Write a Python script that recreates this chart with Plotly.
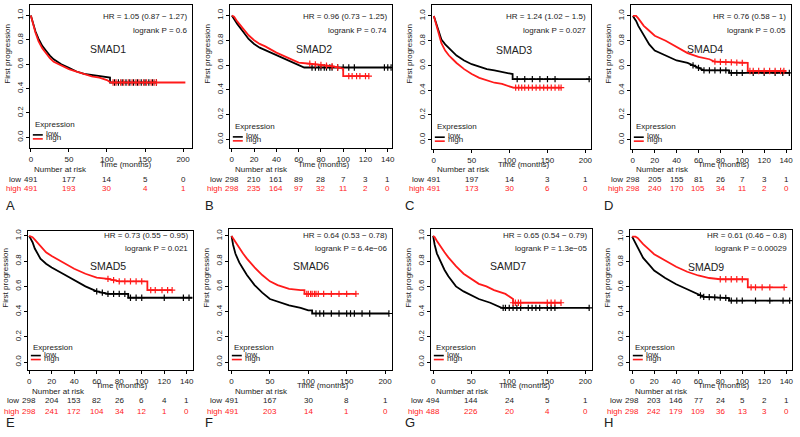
import numpy as np
import plotly.graph_objects as go

W, H = 800, 437
FONT = "Arial, Liberation Sans, sans-serif"
RED = "#FF1A1A"

# ---------------- data ----------------
genes = ["SMAD1", "SMAD2", "SMAD3", "SMAD4", "SMAD5", "SMAD6", "SAMD7", "SMAD9"]
letters = ["A", "B", "C", "D", "E", "F", "G", "H"]
x_max = [200, 140, 200, 140, 140, 200, 200, 140]
x_step = [50, 20, 50, 20, 20, 50, 50, 20]
hr_text = ["HR = 1.05 (0.87 − 1.27)", "HR = 0.96 (0.73 − 1.25)", "HR = 1.24 (1.02 − 1.5)",
           "HR = 0.76 (0.58 − 1)", "HR = 0.73 (0.55 − 0.95)", "HR = 0.64 (0.53 − 0.78)",
           "HR = 0.65 (0.54 − 0.79)", "HR = 0.61 (0.46 − 0.8)"]
p_text = ["logrank P = 0.6", "logrank P = 0.74", "logrank P = 0.027", "logrank P = 0.05",
          "logrank P = 0.021", "logrank P = 6.4e−06", "logrank P = 1.3e−05", "logrank P = 0.00029"]

risk_low = [[491, 177, 14, 5, 0], [298, 210, 161, 89, 28, 7, 3, 1], [491, 197, 14, 3, 1],
            [298, 205, 155, 81, 26, 7, 3, 1], [298, 204, 153, 82, 26, 6, 4, 1],
            [491, 167, 30, 8, 1], [494, 144, 24, 5, 1], [298, 203, 146, 77, 24, 5, 2, 1]]
risk_high = [[491, 193, 30, 4, 1], [298, 235, 164, 97, 32, 11, 2, 0], [491, 173, 30, 6, 0],
             [298, 240, 170, 105, 34, 11, 2, 0], [298, 241, 172, 104, 34, 12, 1, 0],
             [491, 203, 14, 1, 0], [488, 226, 20, 4, 0], [298, 242, 179, 109, 36, 13, 3, 0]]

# SMAD1
smad1_low_t = [0, 3, 6, 10, 15, 20, 25, 30, 40, 50, 60, 70, 80, 90, 100, 104, 104, 165]
smad1_low_s = [1, 0.93, 0.87, 0.81, 0.75, 0.71, 0.67, 0.64, 0.6, 0.57, 0.54, 0.52, 0.51, 0.5, 0.49, 0.49, 0.45, 0.45]
smad1_high_t = [0, 3, 6, 10, 15, 20, 25, 30, 40, 50, 60, 70, 80, 90, 100, 105, 203]
smad1_high_s = [1, 0.92, 0.86, 0.79, 0.73, 0.69, 0.65, 0.62, 0.59, 0.56, 0.54, 0.52, 0.5, 0.49, 0.47, 0.45, 0.45]
smad1_low_c = [110, 115, 120, 125, 130, 135, 140, 145, 150, 155, 160, 165]
smad1_high_c = [108, 112, 118, 122, 128, 133, 138, 142, 148, 152, 158, 162, 165]
# SMAD2
smad2_low_t = [0, 2, 5, 10, 15, 20, 25, 30, 40, 50, 60, 65, 143]
smad2_low_s = [1, 0.97, 0.93, 0.87, 0.81, 0.77, 0.74, 0.72, 0.68, 0.64, 0.6, 0.58, 0.58]
smad2_high_t = [0, 2, 5, 10, 15, 20, 25, 30, 40, 50, 60, 70, 80, 90, 100, 100, 123]
smad2_high_s = [1, 0.99, 0.95, 0.89, 0.84, 0.8, 0.77, 0.75, 0.7, 0.66, 0.62, 0.61, 0.6, 0.59, 0.57, 0.51, 0.51]
smad2_low_c = [72, 75, 78, 80, 83, 85, 88, 90, 95, 100, 105, 110, 137, 140, 143]
smad2_high_c = [70, 75, 80, 85, 90, 95, 105, 108, 112, 115, 120, 123]
# SMAD3
smad3_low_t = [0, 3, 6, 10, 15, 20, 25, 30, 40, 50, 60, 70, 80, 90, 100, 104, 104, 205]
smad3_low_s = [1, 0.94, 0.88, 0.81, 0.77, 0.74, 0.71, 0.68, 0.64, 0.61, 0.59, 0.57, 0.56, 0.55, 0.54, 0.53, 0.49, 0.49]
smad3_high_t = [0, 3, 6, 10, 15, 20, 25, 30, 40, 50, 60, 70, 80, 90, 100, 105, 168]
smad3_high_s = [1, 0.93, 0.85, 0.78, 0.72, 0.68, 0.65, 0.62, 0.57, 0.53, 0.5, 0.48, 0.46, 0.45, 0.43, 0.42, 0.42]
smad3_low_c = [110, 120, 130, 140, 150, 160, 205]
smad3_high_c = [108, 112, 116, 120, 125, 130, 135, 140, 145, 150, 155, 160, 165, 168]
# SMAD4
smad4_low_t = [0, 3, 5, 10, 15, 20, 30, 40, 50, 60, 65, 88, 88, 143]
smad4_low_s = [1, 0.96, 0.92, 0.84, 0.77, 0.72, 0.68, 0.64, 0.62, 0.58, 0.56, 0.56, 0.54, 0.54]
smad4_high_t = [0, 3, 5, 10, 15, 20, 30, 40, 50, 60, 70, 75, 100, 105, 105, 140]
smad4_high_s = [1, 1, 0.98, 0.92, 0.88, 0.84, 0.8, 0.75, 0.7, 0.67, 0.65, 0.63, 0.62, 0.62, 0.555, 0.555]
smad4_low_c = [55, 60, 65, 70, 75, 80, 85, 90, 95, 100, 110, 120, 130, 137, 143]
smad4_high_c = [75, 80, 85, 90, 95, 100, 107, 110, 115, 120, 125, 130, 135, 138]
# SMAD5
smad5_low_t = [0, 3, 5, 10, 15, 20, 30, 40, 50, 60, 70, 88, 88, 145]
smad5_low_s = [1, 0.95, 0.9, 0.82, 0.78, 0.75, 0.7, 0.65, 0.6, 0.56, 0.54, 0.54, 0.51, 0.51]
smad5_high_t = [0, 3, 5, 10, 15, 20, 30, 40, 50, 60, 70, 80, 100, 105, 105, 127]
smad5_high_s = [1, 0.99, 0.97, 0.92, 0.87, 0.84, 0.79, 0.74, 0.7, 0.67, 0.66, 0.64, 0.64, 0.64, 0.57, 0.57]
smad5_low_c = [60, 65, 70, 75, 80, 85, 90, 95, 100, 120, 137, 142]
smad5_high_c = [70, 75, 80, 85, 90, 95, 100, 108, 112, 118, 123, 127]
# SMAD6
smad6_low_t = [0, 2, 5, 10, 15, 20, 30, 40, 50, 60, 75, 90, 100, 105, 105, 205]
smad6_low_s = [1, 0.93, 0.86, 0.79, 0.74, 0.69, 0.61, 0.55, 0.5, 0.48, 0.45, 0.43, 0.41, 0.41, 0.385, 0.385]
smad6_high_t = [0, 2, 5, 10, 15, 20, 30, 40, 50, 60, 75, 90, 95, 95, 162]
smad6_high_s = [1, 0.98, 0.95, 0.9, 0.86, 0.82, 0.75, 0.69, 0.64, 0.61, 0.58, 0.57, 0.57, 0.54, 0.54]
smad6_low_c = [110, 115, 120, 130, 140, 150, 155, 160, 170, 180, 205]
smad6_high_c = [98, 100, 103, 105, 108, 110, 113, 120, 130, 140, 150, 162]
# SAMD7
samd7_low_t = [0, 2, 5, 10, 15, 20, 30, 40, 50, 60, 75, 90, 205]
samd7_low_s = [1, 0.93, 0.86, 0.79, 0.73, 0.68, 0.6, 0.56, 0.53, 0.5, 0.47, 0.43, 0.43]
samd7_high_t = [0, 2, 5, 10, 15, 20, 30, 40, 50, 60, 70, 80, 95, 100, 105, 105, 168]
samd7_high_s = [1, 0.99, 0.96, 0.91, 0.87, 0.83, 0.76, 0.7, 0.66, 0.62, 0.6, 0.57, 0.54, 0.52, 0.5, 0.47, 0.47]
samd7_low_c = [92, 95, 100, 105, 110, 115, 125, 130, 135, 140, 150, 155, 160, 205]
samd7_high_c = [105, 108, 112, 115, 150, 155, 160, 168]
# SMAD9
smad9_low_t = [0, 3, 5, 10, 15, 20, 30, 40, 50, 60, 65, 88, 88, 143]
smad9_low_s = [1, 0.95, 0.91, 0.83, 0.78, 0.73, 0.67, 0.62, 0.58, 0.54, 0.52, 0.51, 0.49, 0.49]
smad9_high_t = [0, 3, 5, 10, 15, 20, 30, 40, 50, 60, 70, 80, 100, 105, 105, 138]
smad9_high_s = [1, 1, 0.99, 0.94, 0.9, 0.86, 0.81, 0.76, 0.72, 0.69, 0.67, 0.66, 0.66, 0.66, 0.595, 0.595]
smad9_low_c = [62, 65, 70, 75, 80, 85, 90, 95, 100, 112, 125, 137, 143]
smad9_high_c = [80, 85, 90, 95, 100, 108, 112, 118, 125, 138]

curves = [
    (smad1_low_t, smad1_low_s, smad1_low_c, smad1_high_t, smad1_high_s, smad1_high_c),
    (smad2_low_t, smad2_low_s, smad2_low_c, smad2_high_t, smad2_high_s, smad2_high_c),
    (smad3_low_t, smad3_low_s, smad3_low_c, smad3_high_t, smad3_high_s, smad3_high_c),
    (smad4_low_t, smad4_low_s, smad4_low_c, smad4_high_t, smad4_high_s, smad4_high_c),
    (smad5_low_t, smad5_low_s, smad5_low_c, smad5_high_t, smad5_high_s, smad5_high_c),
    (smad6_low_t, smad6_low_s, smad6_low_c, smad6_high_t, smad6_high_s, smad6_high_c),
    (samd7_low_t, samd7_low_s, samd7_low_c, samd7_high_t, samd7_high_s, samd7_high_c),
    (smad9_low_t, smad9_low_s, smad9_low_c, smad9_high_t, smad9_high_s, smad9_high_c),
]

# ---------------- layout geometry (pixels) ----------------
# box x0, x1, y0, y1 ; pixel of x=0, x=xmax ; pixel of y=1, y=0
geom = [
    (29, 192, 3, 147, 30.0, 183.0, 13.5, 136.0),
    (230, 393, 3, 147, 232.0, 388.7, 13.5, 138.0),
    (433, 593, 3, 148, 435.0, 587.3, 14.0, 138.3),
    (633, 794, 3, 148, 635.0, 789.0, 14.0, 138.3),
    (27, 193, 230, 370, 28.3, 186.7, 235.0, 361.7),
    (229, 393, 228, 370, 231.7, 386.0, 235.0, 361.7),
    (432, 594, 228, 370, 434.3, 587.3, 235.0, 361.7),
    (632, 795, 229, 370, 634.3, 789.3, 235.7, 361.7),
]
gene_pos = [(108, 47), (315, 47), (516, 48), (708, 47), (108, 265), (312, 265), (510, 265), (709, 266)]
xtitle_x = [126, 325, 526, 727, 122, 324, 527, 727]


def px(x):
    return x / W


def py(y):
    return 1 - y / H


fig = go.Figure()
annotations = []
shapes = []
TXT = "#222"

for i in range(8):
    x0, x1, y0, y1, p0, pm, q1, q0 = geom[i]
    xm = x_max[i]
    sx = (pm - p0) / xm
    xr = [-(p0 - x0) / sx, xm + (x1 - pm) / sx]
    sy = (q0 - q1)
    yr = [-(y1 - q0) / sy, 1 + (q1 - y0) / sy]
    top = i < 4
    n = i + 1
    xa = "x" if n == 1 else f"x{n}"
    ya = "y" if n == 1 else f"y{n}"
    axcommon = dict(showgrid=False, zeroline=False, showline=True, linecolor="black", linewidth=1,
                    mirror=True, ticks="outside", ticklen=3, tickcolor="black", tickwidth=1,
                    tickfont=dict(family=FONT, size=8, color=TXT))
    fig.layout[f"xaxis{'' if n == 1 else n}"] = dict(
        domain=[px(x0), px(x1)], range=xr, anchor=ya,
        tickvals=list(range(0, xm + 1, x_step[i])), **axcommon)
    fig.layout[f"yaxis{'' if n == 1 else n}"] = dict(
        domain=[py(y1), py(y0)], range=yr, anchor=xa, tickangle=-90,
        tickvals=[0, 0.2, 0.4, 0.6, 0.8, 1.0], ticktext=["0.0", "0.2", "0.4", "0.6", "0.8", "1.0"],
        **axcommon)

    lt, ls, lc, ht, hs, hc = curves[i]
    for tt, ss, cc, col in ((lt, ls, lc, "black"), (ht, hs, hc, RED)):
        fig.add_trace(go.Scatter(x=tt, y=ss, mode="lines", line=dict(color=col, width=1.8),
                                 xaxis=xa, yaxis=ya, showlegend=False, hoverinfo="skip"))
        cy = np.interp(cc, tt, ss)
        fig.add_trace(go.Scatter(x=cc, y=cy, mode="markers",
                                 marker=dict(symbol="cross-thin", size=4.5, line=dict(color=col, width=1.2)),
                                 xaxis=xa, yaxis=ya, showlegend=False, hoverinfo="skip"))

    # texts inside the box
    ry = 15 if top else 235
    annotations.append(dict(x=px(x1 - 3), y=py(ry), xref="paper", yref="paper", text=hr_text[i],
                            showarrow=False, xanchor="right", yanchor="middle",
                            font=dict(family=FONT, size=8, color=TXT)))
    annotations.append(dict(x=px(x1 - 3), y=py(ry + (14 if top else 13)), xref="paper", yref="paper",
                            text=p_text[i], showarrow=False, xanchor="right", yanchor="middle",
                            font=dict(family=FONT, size=8, color=TXT)))
    gx, gy = gene_pos[i]
    annotations.append(dict(x=px(gx), y=py(gy), xref="paper", yref="paper", text=genes[i],
                            showarrow=False, xanchor="center", yanchor="middle",
                            font=dict(family=FONT, size=10.5, color=TXT)))
    # legend
    ey = q0 - (13 if top else 15)
    ly = q0 - (4 if top else 8)
    hy = q0 - (0 if top else 4)
    annotations.append(dict(x=px(x0 + 3), y=py(ey), xref="paper", yref="paper", text="Expression",
                            showarrow=False, xanchor="left", yanchor="middle",
                            font=dict(family=FONT, size=8, color=TXT)))
    for yy, lab, col in ((ly, "low", "black"), (hy, "high", RED)):
        shapes.append(dict(type="line", xref="paper", yref="paper", x0=px(x0 + 3), x1=px(x0 + 13),
                           y0=py(yy + 1.5), y1=py(yy + 1.5), line=dict(color=col, width=1.6)))
        annotations.append(dict(x=px(x0 + 14), y=py(yy), xref="paper", yref="paper", text=lab,
                                showarrow=False, xanchor="left", yanchor="middle",
                                font=dict(family=FONT, size=8, color=TXT)))
    # axis titles
    annotations.append(dict(x=px(xtitle_x[i]), y=py(163 if top else 385), xref="paper", yref="paper",
                            text="Time (months)", showarrow=False, xanchor="center", yanchor="middle",
                            font=dict(family=FONT, size=8, color=TXT)))
    annotations.append(dict(x=px(x0 - 22), y=py(52 if top else 277), xref="paper", yref="paper",
                            text="First progression", showarrow=False, textangle=-90,
                            xanchor="center", yanchor="middle",
                            font=dict(family=FONT, size=8, color=TXT)))
    # number at risk
    rb = 168 if top else 391
    rl = 178 if top else 400
    rh = 187 if top else 411
    annotations.append(dict(x=px(p0 + 1), y=py(rb), xref="paper", yref="paper", text="Number at risk",
                            showarrow=False, xanchor="left", yanchor="middle",
                            font=dict(family=FONT, size=8, color=TXT)))
    annotations.append(dict(x=px(p0 - 8), y=py(rl), xref="paper", yref="paper", text="low",
                            showarrow=False, xanchor="right", yanchor="middle",
                            font=dict(family=FONT, size=8, color=TXT)))
    annotations.append(dict(x=px(p0 - 8), y=py(rh), xref="paper", yref="paper", text="high",
                            showarrow=False, xanchor="right", yanchor="middle",
                            font=dict(family=FONT, size=8, color=RED)))
    ticks = list(range(0, xm + 1, x_step[i]))
    for k, tv in enumerate(ticks):
        annotations.append(dict(x=tv, y=py(rl), xref=xa, yref="paper", text=str(risk_low[i][k]),
                                showarrow=False, xanchor="center", yanchor="middle",
                                font=dict(family=FONT, size=8, color=TXT)))
        annotations.append(dict(x=tv, y=py(rh), xref=xa, yref="paper", text=str(risk_high[i][k]),
                                showarrow=False, xanchor="center", yanchor="middle",
                                font=dict(family=FONT, size=8, color=RED)))
    # panel letter
    annotations.append(dict(x=px([3, 203, 404, 604][i % 4]), y=py(204 if top else 422), xref="paper",
                            yref="paper", text=letters[i], showarrow=False, xanchor="left",
                            yanchor="middle", font=dict(family=FONT, size=13, color=TXT)))

fig.update_layout(width=W, height=H, margin=dict(l=0, r=0, t=0, b=0),
                  paper_bgcolor="white", plot_bgcolor="white",
                  annotations=annotations, shapes=shapes, showlegend=False)
fig.write_html("out.html", config={"displayModeBar": False},
               post_script="document.body.style.margin='0';document.body.style.overflow='hidden';")
